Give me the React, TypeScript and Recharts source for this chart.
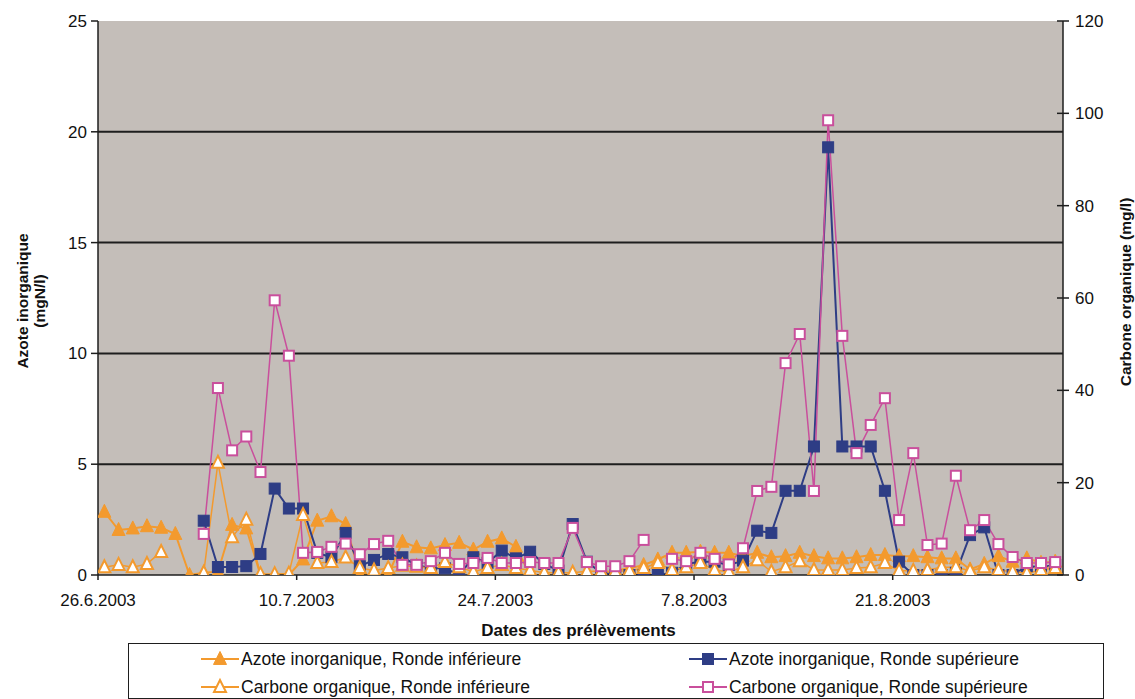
import React from 'react';
import { ComposedChart, Line, XAxis, YAxis, CartesianGrid, ReferenceLine, Legend, Label } from 'recharts';

const FONT = '"Liberation Sans", Arial, sans-serif';
const ORANGE = '#f39a2e';
const NAVY = '#2e3d85';
const PINK = '#c94f9c';
const PLOT_BG = '#c4beb9';
const INK = '#1e1e1e';

// Sampling days counted from 26.6.2003 (samples taken late morning)
const sampleDays = [
  0, 1, 2, 3, 4, 5, 6, 7, 8, 9, 10, 11, 12, 13, 14, 15, 16, 17, 18, 19, 20, 21, 22, 23,
  24, 25, 26, 27, 28, 29, 30, 31, 32, 33, 34, 35, 36, 37, 38, 39, 40, 41, 42, 43, 44, 45, 46, 47,
  48, 49, 50, 51, 52, 53, 54, 55, 56, 57, 58, 59, 60, 61, 62, 63, 64, 65, 66, 67,
];
const SAMPLE_TIME = 0.45;

// Azote inorganique, Ronde inférieure (mgN/l)
const azoteInf = [
  2.85, 2.03, 2.1, 2.2, 2.13, 1.85, 0, 0.1, 0.15, 2.26, 2.1, 0, 0, 0, 0.7, 2.45, 2.65, 2.3, 0, 0, 0, 1.5, 1.25, 1.2,
  1.35, 1.45, 1.15, 1.5, 1.65, 1.27, 0, 0, 0, 0, 0, 0, 0.2, 0.3, 0.45, 0.7, 1.0, 1.0, 1.05, 1.0, 1.0, 0.85, 1.0, 0.8,
  0.85, 1.0, 0.85, 0.75, 0.75, 0.8, 0.9, 0.9, 0.85, 0.85, 0.8, 0.75, 0.75, 0.25, 0.5, 0.85, 0.6, 0.75, 0.55, 0.6,
];
// Azote inorganique, Ronde supérieure (mgN/l)
const azoteSup = [
  null, null, null, null, null, null, null, 2.45, 0.36, 0.36, 0.4, 0.95, 3.9, 3.0, 3.0, 1.0, 0.8, 1.9, 0.4, 0.68, 0.95, 0.8, 0.45, 0.3,
  0.3, 0.0, 0.8, 0.55, 1.1, 0.75, 1.05, 0.5, 0.2, 2.3, 0.6, 0.1, 0, 0, 0, 0, 0.1, 0.5, 0.6, 0.6, 0.45, 0.65, 2.0, 1.9,
  3.8, 3.8, 5.8, 19.3, 5.8, 5.8, 5.8, 3.8, 0.6, 0, 0, 0, 0.1, 1.8, 2.15, 0, 0, 0.4, 0.35, 0.45,
];
// Carbone organique, Ronde inférieure (mg/l)
const carboneInf = [
  1.7, 2.2, 1.7, 2.4, 5.0, null, null, 0.5, 24.3, 8.2, 12.0, 0.2, 0.2, 0.3, 13.0, 2.6, 2.8, 3.8, 1.5, 1.0, 1.5, 2.0, 1.8, 1.5,
  2.8, 1.7, 0.7, 1.5, 2.2, 1.5, 1.0, 0.5, 0.5, 0.5, 0.8, 0.8, 0.8, 0.9, 1.5, 2.6, 1.1, 1.7, 2.6, 1.1, 0.7, 1.7, 3.2, 0.7,
  1.7, 3.0, 1.1, 1.1, 1.1, 1.5, 1.7, 2.6, 0.9, 0.9, 1.1, 1.7, 1.7, 0.9, 1.7, 1.1, 0.7, 0.4, 1.1, 1.5,
];
// Carbone organique, Ronde supérieure (mg/l)
const carboneSup = [
  null, null, null, null, null, null, null, 8.9, 40.5, 27.0, 30.0, 22.3, 59.5, 47.5, 4.8, 5.0, 6.1, 6.8, 4.5, 6.7, 7.4, 2.2, 2.2, 3.0,
  4.8, 2.4, 2.6, 3.7, 2.6, 2.6, 2.8, 2.6, 2.6, 10.2, 2.8, 1.9, 1.9, 3.0, 7.6, null, 3.5, 3.0, 4.8, 3.5, 2.3, 5.8, 18.2, 19.1,
  45.9, 52.2, 18.2, 98.5, 51.8, 26.4, 32.5, 38.3, 11.9, 26.4, 6.5, 6.8, 21.5, 9.7, 11.9, 6.7, 3.9, 2.6, 2.6, 2.8,
];

const xTickDays = [0, 14, 28, 42, 56];
const xTickLabels = ['26.6.2003', '10.7.2003', '24.7.2003', '7.8.2003', '21.8.2003'];
const leftTicks = [0, 5, 10, 15, 20, 25];
const rightTicks = [0, 20, 40, 60, 80, 100, 120];
const gridValues = [5, 10, 15, 20];

const seriesNames = [
  'Azote inorganique, Ronde inférieure',
  'Azote inorganique, Ronde supérieure',
  'Carbone organique, Ronde inférieure',
  'Carbone organique, Ronde supérieure',
];
const seriesColors = [ORANGE, NAVY, ORANGE, PINK];
const seriesShapes = ['tri', 'sq', 'tri', 'sq'];
const seriesFilled = [true, true, false, false];

function Marker({ cx, cy, shape, color, filled }: any) {
  if (shape === 'tri') {
    const s = filled ? 13 : 12;
    const pts = `${cx},${cy - s * 0.58} ${cx - s / 2},${cy + s * 0.42} ${cx + s / 2},${cy + s * 0.42}`;
    return <polygon points={pts} fill={filled ? color : '#ffffff'} stroke={color} strokeWidth={filled ? 1 : 2} strokeLinejoin="miter" />;
  }
  const s = filled ? 11 : 10;
  return <rect x={cx - s / 2} y={cy - s / 2} width={s} height={s} fill={filled ? color : '#ffffff'} stroke={color} strokeWidth={filled ? 1 : 2} />;
}

const makeDot = (i: number) => (props: any) => {
  const { cx, cy, index, value } = props;
  if (cx == null || cy == null || value == null || Number.isNaN(cy)) return <g key={`d${i}-${index}`} />;
  return (
    <g key={`d${i}-${index}`}>
      <Marker cx={cx} cy={cy} shape={seriesShapes[i]} color={seriesColors[i]} filled={seriesFilled[i]} />
    </g>
  );
};

const RightTick = (props: any) => {
  const { x, y, payload } = props;
  return (
    <g>
      <line x1={x - 18} x2={x - 6} y1={y} y2={y} stroke={INK} strokeWidth={1.5} />
      <text x={x} y={y} dy={6} textAnchor="start" fill="#111" fontSize={17} fontFamily={FONT}>
        {payload.value}
      </text>
    </g>
  );
};

const LeftTitle = (props: any) => {
  const vb = props.viewBox || { x: 0, y: 21, width: 98, height: 554 };
  const cy = vb.y + vb.height / 2 + 3;
  return (
    <g fontFamily={FONT} fontWeight="bold" fontSize={15.5} fill="#111">
      <text x={22} y={cy} textAnchor="middle" dominantBaseline="central" transform={`rotate(-90, 22, ${cy})`}>
        Azote inorganique
      </text>
      <text x={39} y={cy} textAnchor="middle" dominantBaseline="central" transform={`rotate(-90, 39, ${cy})`}>
        (mgN/l)
      </text>
    </g>
  );
};

const RightTitle = (props: any) => {
  const vb = props.viewBox || { x: 1063, y: 21, width: 72, height: 554 };
  const cy = vb.y + vb.height / 2 - 6;
  const x = 1125;
  return (
    <text x={x} y={cy} textAnchor="middle" dominantBaseline="central" transform={`rotate(-90, ${x}, ${cy})`}
      fontFamily={FONT} fontWeight="bold" fontSize={15.5} fill="#111">
      Carbone organique (mg/l)
    </text>
  );
};

const BottomTitle = (props: any) => {
  const vb = props.viewBox || { x: 98, y: 575, width: 965, height: 124 };
  return (
    <text x={vb.x + vb.width / 2 - 2} y={vb.y + 61} textAnchor="middle" fontFamily={FONT} fontWeight="bold" fontSize={17} fill="#111">
      Dates des prélèvements
    </text>
  );
};

const LegendBox = () => (
  <div style={{ width: 976, height: 56, border: `1.5px solid ${INK}`, boxSizing: 'border-box', position: 'relative', background: '#fff', fontFamily: FONT }}>
    {seriesNames.map((name, i) => {
      const col = i % 2;
      const row = Math.floor(i / 2);
      const left = col === 0 ? 71 : 559;
      const top = row === 0 ? 2 : 30;
      return (
        <div key={name} style={{ position: 'absolute', left, top, height: 26, display: 'flex', alignItems: 'center', whiteSpace: 'nowrap' }}>
          <svg width={40} height={26} style={{ display: 'block' }}>
            <line x1={1} x2={39} y1={13} y2={13} stroke={seriesColors[i]} strokeWidth={2} />
            <Marker cx={20} cy={13} shape={seriesShapes[i]} color={seriesColors[i]} filled={seriesFilled[i]} />
          </svg>
          <span style={{ fontSize: 17.5, color: '#111', marginLeft: 1 }}>{name}</span>
        </div>
      );
    })}
  </div>
);

export default function App() {
  const data = sampleDays.map((d, i) => ({
    t: d + SAMPLE_TIME,
    azoteInf: azoteInf[i],
    azoteSup: azoteSup[i],
    carboneInf: carboneInf[i],
    carboneSup: carboneSup[i],
  }));
  const keys = ['azoteInf', 'azoteSup', 'carboneInf', 'carboneSup'];
  const axes = ['left', 'left', 'right', 'right'];
  const widths = [2, 2, 1.5, 1.5];
  return (
    <div style={{ position: 'absolute', left: 0, top: 0, width: 1135, height: 699, background: '#ffffff', fontFamily: FONT }}>
      <ComposedChart width={1135} height={699} data={data} margin={{ top: 21, right: 0, bottom: 0, left: 0 }}>
        <CartesianGrid yAxisId="left" fill={PLOT_BG} fillOpacity={1} stroke="none" horizontal={false} vertical={false} />
        <XAxis
          dataKey="t"
          type="number"
          domain={[0, 68]}
          ticks={xTickDays}
          interval={0}
          allowDataOverflow
          tickFormatter={(v: number) => xTickLabels[xTickDays.indexOf(v)] ?? ''}
          height={124}
          axisLine={{ stroke: INK, strokeWidth: 1.5 }}
          tickLine={{ stroke: INK, strokeWidth: 1.5 }}
          tick={{ fill: '#111', fontSize: 17, fontFamily: FONT }}
          tickSize={5}
          tickMargin={14}
        >
          <Label content={<BottomTitle />} />
        </XAxis>
        <YAxis
          yAxisId="left"
          orientation="left"
          width={98}
          domain={[0, 25]}
          ticks={leftTicks}
          interval={0}
          allowDataOverflow
          axisLine={{ stroke: INK, strokeWidth: 1.5 }}
          tickLine={{ stroke: INK, strokeWidth: 1.5 }}
          tick={{ fill: '#111', fontSize: 17, fontFamily: FONT }}
          tickSize={7}
          tickMargin={4}
        >
          <Label content={<LeftTitle />} />
        </YAxis>
        <YAxis
          yAxisId="right"
          orientation="right"
          width={72}
          domain={[0, 120]}
          ticks={rightTicks}
          interval={0}
          allowDataOverflow
          axisLine={{ stroke: INK, strokeWidth: 1.5 }}
          tickLine={false}
          tick={<RightTick />}
          tickSize={6}
          tickMargin={6}
        >
          <Label content={<RightTitle />} />
        </YAxis>
        {gridValues.map((v) => (
          <ReferenceLine key={v} yAxisId="left" y={v} stroke={INK} strokeWidth={2} ifOverflow="hidden" />
        ))}
        {keys.map((k, i) => (
          <Line
            key={k}
            yAxisId={axes[i]}
            dataKey={k}
            name={seriesNames[i]}
            type="linear"
            stroke={seriesColors[i]}
            strokeWidth={widths[i]}
            dot={makeDot(i)}
            activeDot={false}
            isAnimationActive={false}
            connectNulls={false}
          />
        ))}
        <Legend
          layout="horizontal"
          verticalAlign="middle"
          align="center"
          wrapperStyle={{ left: 128, top: 643, width: 976, height: 56 }}
          content={() => <LegendBox />}
        />
      </ComposedChart>
    </div>
  );
}
